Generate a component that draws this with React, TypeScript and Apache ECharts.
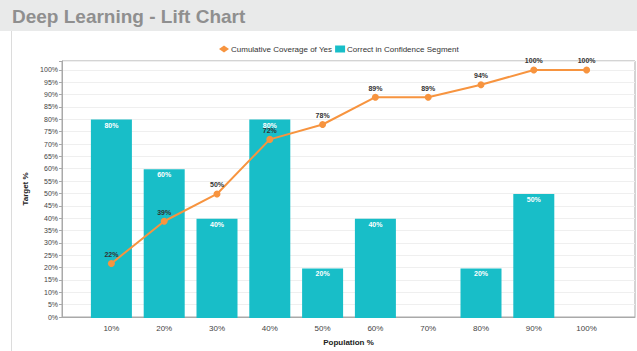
import React, { useEffect, useRef } from "react";
import * as echarts from "echarts";

// Population deciles on the x axis
const categories = ["10%", "20%", "30%", "40%", "50%", "60%", "70%", "80%", "90%", "100%"];
// Share of correct predictions inside each confidence segment (%)
const correctInSegment = [80, 60, 40, 80, 20, 40, 0, 20, 50, 0];
// Cumulative coverage of the "Yes" class (%)
const cumulativeCoverage = [22, 39, 50, 72, 78, 89, 89, 94, 100, 100];

const TEAL = "#18bec8";
const ORANGE = "#f7943f";
const FONT = "'Liberation Sans Narrow', 'Arial Narrow', 'Liberation Sans', Arial, sans-serif";

export default function App() {
  const ref = useRef<HTMLDivElement>(null);

  useEffect(() => {
    if (!ref.current) return;
    const chart = echarts.init(ref.current, undefined, { renderer: "svg" });
    const pct = (v: number) => (v > 100 ? "" : `${v}%`);
    chart.setOption({
      animation: false,
      backgroundColor: "#ffffff",
      textStyle: { fontFamily: FONT },
      graphic: [
        { type: "rect", shape: { x: 0, y: 0, width: 637, height: 31 }, style: { fill: "#e9eaea" }, silent: true },
        {
          type: "text",
          x: 12,
          y: 16,
          style: {
            text: "Deep Learning - Lift Chart",
            fill: "#8f8f8f",
            font: "bold 19px 'Liberation Sans', Arial, sans-serif",
            textVerticalAlign: "middle",
          },
        },
        { type: "line", shape: { x1: 11.5, y1: 31, x2: 11.5, y2: 351 }, style: { stroke: "#dcdcdc", lineWidth: 1 } },
      ],
      legend: {
        top: 40,
        left: 214,
        itemWidth: 10,
        itemHeight: 7,
        itemGap: 3,
        textStyle: { fontSize: 8, color: "#333", fontFamily: FONT, padding: [0, 0, 0, -3] },
        data: [
          { name: "Cumulative Coverage of Yes", icon: "diamond" },
          { name: "Correct in Confidence Segment", icon: "rect" },
        ],
      },
      grid: [
        { left: 62, top: 61, width: 573, height: 257, show: true, borderColor: "#a9a9a9", borderWidth: 1, backgroundColor: "#fff" },
        { left: 85, top: 61, width: 528, height: 257 },
      ],
      xAxis: [
        {
          type: "value",
          gridIndex: 0,
          min: 0,
          max: 1,
          axisLabel: { show: false },
          axisTick: { show: false },
          splitLine: { show: false },
          axisLine: { show: true, lineStyle: { color: "#a9a9a9" } },
          name: "Population %",
          nameLocation: "middle",
          nameGap: 21,
          nameTextStyle: { fontSize: 8, fontWeight: "bold", color: "#222", fontFamily: FONT },
        },
        {
          type: "category",
          gridIndex: 1,
          data: categories,
          axisLine: { show: false },
          axisTick: { show: false },
          axisLabel: { fontSize: 8, color: "#444", margin: 6, fontFamily: FONT },
        },
      ],
      yAxis: [
        {
          type: "value",
          gridIndex: 0,
          min: 0,
          max: 103.6,
          interval: 5,
          axisLine: { show: true, lineStyle: { color: "#a9a9a9" } },
          axisTick: { show: true, length: 3, lineStyle: { color: "#a9a9a9" } },
          axisLabel: { fontSize: 7, color: "#444", margin: 4, formatter: pct, fontFamily: FONT },
          splitLine: { show: true, lineStyle: { color: "#efefef" } },
          name: "Target %",
          nameLocation: "middle",
          nameGap: 24,
          nameRotate: 90,
          nameTextStyle: { fontSize: 8, fontWeight: "bold", color: "#222", fontFamily: FONT },
        },
        {
          type: "value",
          gridIndex: 1,
          min: 0,
          max: 103.6,
          show: false,
          splitLine: { show: false },
        },
      ],
      series: [
        {
          name: "Correct in Confidence Segment",
          type: "bar",
          xAxisIndex: 1,
          yAxisIndex: 1,
          data: correctInSegment,
          barWidth: 41,
          itemStyle: { color: TEAL },
          label: {
            show: true,
            position: "insideTop",
            distance: 2,
            fontSize: 7,
            fontWeight: "bold",
            color: "#ffffff",
            fontFamily: FONT,
            formatter: (p: any) => (p.value > 0 ? `${p.value}%` : ""),
          },
        },
        {
          name: "Cumulative Coverage of Yes",
          type: "line",
          xAxisIndex: 1,
          yAxisIndex: 1,
          data: cumulativeCoverage,
          symbol: "circle",
          symbolSize: 7,
          z: 5,
          lineStyle: { color: ORANGE, width: 2 },
          itemStyle: { color: ORANGE },
          label: {
            show: true,
            position: "top",
            distance: 2,
            fontSize: 7,
            fontWeight: "bold",
            color: "#333",
            fontFamily: FONT,
            formatter: (p: any) => `${p.value}%`,
          },
        },
      ],
    });
    return () => chart.dispose();
  }, []);

  return (
    <div
      ref={ref}
      style={{ position: "fixed", left: 0, top: 0, width: 637, height: 351 }}
    />
  );
}
